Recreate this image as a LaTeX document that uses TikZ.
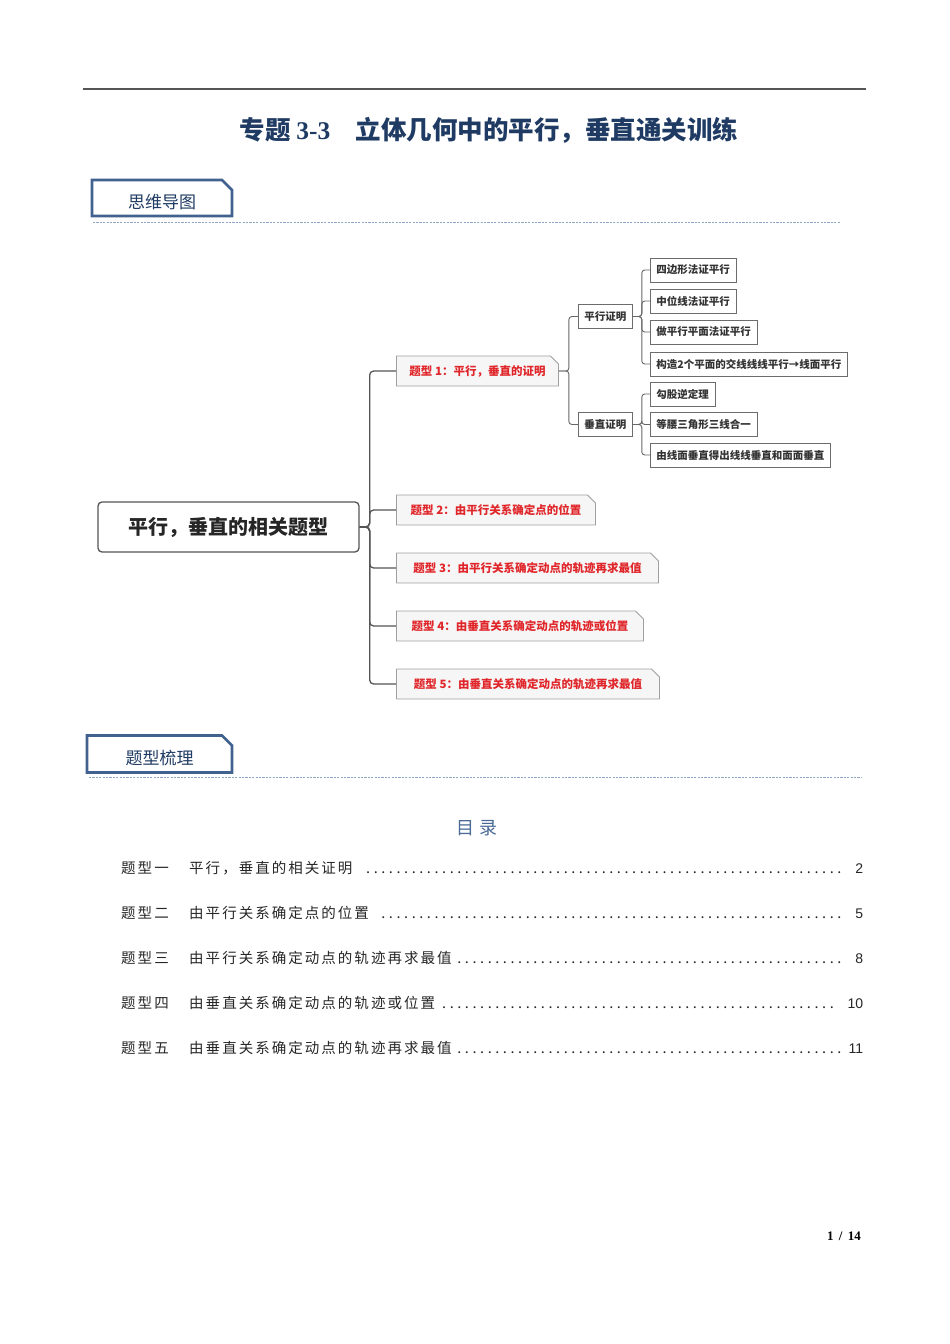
\documentclass[tikz,border=0pt]{standalone}
\usepackage{fontspec}
\setmainfont{Liberation Serif}
\setsansfont{Liberation Sans}
\newfontfamily\hei{Noto Sans CJK SC}
\newfontfamily\tocfont{Noto Sans CJK SC}[LetterSpace=14]
\usetikzlibrary{positioning, shapes.misc, calc}
\definecolor{navy}{HTML}{1F3B63}
\definecolor{tagblue}{HTML}{41628E}
\definecolor{dashblue}{HTML}{8DA6C6}
\definecolor{mapred}{HTML}{E0262A}
\definecolor{boxgray}{HTML}{F6F6F6}
\definecolor{linegray}{HTML}{555555}
\definecolor{tocblue}{HTML}{4A6B96}
\newcommand{\tocdots}{\leaders\hbox to 7.6pt{\hss.\hss}\hfill}
\newcommand{\pg}[1]{{\sffamily\fontsize{14}{14}\selectfont #1}}
\tikzset{
  tagbox/.style={chamfered rectangle, chamfered rectangle corners=north east,
    chamfered rectangle xsep=5pt, chamfered rectangle ysep=5pt,
    draw=tagblue, line width=2.6pt, fill=white, inner sep=0pt,
    text height=20pt, text depth=0pt,
    font=\hei\fontsize{17}{17}\selectfont, text=navy},
  sepline/.style={draw=dashblue, line width=0.9pt, dash pattern=on 2.2pt off 1.2pt},
  rootbox/.style={draw=linegray, line width=1.3pt, rounded corners=4pt, fill=white,
    minimum width=261pt, minimum height=50pt,
    font=\hei\bfseries\fontsize{20}{20}\selectfont, text=black!85},
  typebox/.style={chamfered rectangle, chamfered rectangle corners=north east,
    chamfered rectangle xsep=4pt, chamfered rectangle ysep=4pt,
    draw=gray!75, line width=0.9pt, fill=boxgray, minimum height=30pt,
    inner xsep=4pt, inner ysep=0pt,
    font=\hei\bfseries\fontsize{11.5}{11.5}\selectfont, text=mapred, anchor=west},
  leafbox/.style={draw=gray!85!black, line width=0.8pt, fill=white,
    minimum height=24pt, inner xsep=6pt, inner ysep=0pt,
    font=\hei\bfseries\fontsize{10.5}{10.5}\selectfont, text=black!80, anchor=west},
  link/.style={draw=linegray, line width=1.3pt, rounded corners=4pt},
  twig/.style={draw=linegray!90, line width=0.9pt, rounded corners=3pt},
  tocline/.style={inner sep=0pt, anchor=west, text=black!85,
    font=\tocfont\fontsize{14.5}{14.5}\selectfont}
}
\begin{document}
\begin{tikzpicture}[x=1pt, y=-1pt]
  \useasboundingbox (0,0) rectangle (950,1344);
  % header
  \draw[linegray, line width=1.6pt] (83,89) -- (866,89);
  \node[font=\hei\bfseries\fontsize{25.5}{25.5}\selectfont, text=navy] (title) at (489,130)
    {专题 {\rmfamily\bfseries 3-3}\quad 立体几何中的平行，垂直通关训练};

  \node[tagbox, minimum width=140pt, minimum height=36pt] (tag1) at (162,198) {思维导图};
  \draw[sepline] (93,222) -- (840,222);

  % mind map
  \node[rootbox] (root) at (228.5,527) {平行，垂直的相关题型};

  \node[typebox, minimum width=162pt] (t1) at (396,371) {题型 1：平行，垂直的证明};
  \node[typebox, minimum width=199pt] (t2) at (396,510) {题型 2：由平行关系确定点的位置};
  \node[typebox, minimum width=262pt] (t3) at (396,568) {题型 3：由平行关系确定动点的轨迹再求最值};
  \node[typebox, minimum width=247pt] (t4) at (396,626) {题型 4：由垂直关系确定动点的轨迹或位置};
  \node[typebox, minimum width=263pt] (t5) at (396,684) {题型 5：由垂直关系确定动点的轨迹再求最值};

  \node[leafbox] (p1) at (578,316.5) {平行证明};
  \node[leafbox] (p2) at (578,424.5) {垂直证明};

  \node[leafbox] (l1) at (650,270) {四边形法证平行};
  \node[leafbox] (l2) at (650,301) {中位线法证平行};
  \node[leafbox] (l3) at (650,332) {做平行平面法证平行};
  \node[leafbox] (l4) at (650,364) {构造2个平面的交线线线平行→线面平行};
  \node[leafbox] (l5) at (650,394) {勾股逆定理};
  \node[leafbox] (l6) at (650,424.5) {等腰三角形三线合一};
  \node[leafbox] (l7) at (650,455) {由线面垂直得出线线垂直和面面垂直};

  \foreach \t in {t1,t2,t3,t4,t5}
    \draw[link] (root.east) -- ++(10,0) |- (\t.west);
  \foreach \p in {p1,p2}
    \draw[twig] (t1.east) -- ++(10,0) |- (\p.west);
  \foreach \l in {l1,l2,l3,l4}
    \draw[twig] (p1.east) -- ++(9,0) |- (\l.west);
  \foreach \l in {l5,l6,l7}
    \draw[twig] (p2.east) -- ++(9,0) |- (\l.west);

  % contents
  \node[tagbox, minimum width=145pt, minimum height=37pt] (tag2) at (159.5,754) {题型梳理};
  \draw[sepline] (89,777) -- (862,777);

  \node[font=\hei\fontsize{18}{18}\selectfont, text=tocblue] (toc) at (477,828) {目 录};
  \node[tocline] (toc1) at (121,868)
    {\hbox to 742pt{\hbox to 68pt{题型一\hfil}平行，垂直的相关证明\ \tocdots\ \pg{2}}};
  \node[tocline] (toc2) at (121,913)
    {\hbox to 742pt{\hbox to 68pt{题型二\hfil}由平行关系确定点的位置\ \tocdots\ \pg{5}}};
  \node[tocline] (toc3) at (121,958)
    {\hbox to 742pt{\hbox to 68pt{题型三\hfil}由平行关系确定动点的轨迹再求最值\tocdots\ \pg{8}}};
  \node[tocline] (toc4) at (121,1003)
    {\hbox to 742pt{\hbox to 68pt{题型四\hfil}由垂直关系确定动点的轨迹或位置\tocdots\ \pg{10}}};
  \node[tocline] (toc5) at (121,1048)
    {\hbox to 742pt{\hbox to 68pt{题型五\hfil}由垂直关系确定动点的轨迹再求最值\tocdots\ \pg{11}}};

  \node[font=\bfseries\fontsize{13}{13}\selectfont] (page) at (844,1236) {1 \,/\, 14};
\end{tikzpicture}
\end{document}
